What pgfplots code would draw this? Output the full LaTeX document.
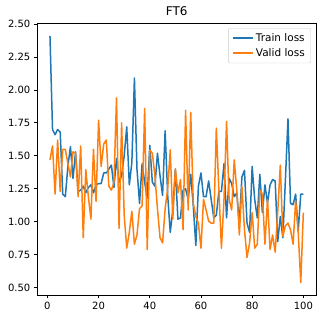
\documentclass[border=0pt]{standalone}
\usepackage{pgfplots}
\pgfplotsset{compat=1.18}
\usepackage{fontspec}
\setmainfont{DejaVu Sans}
\definecolor{C0}{HTML}{1F77B4}
\definecolor{C1}{HTML}{FF7F0E}
\begin{document}
\begin{tikzpicture}
\begin{axis}[
  at={(0,0)}, anchor=south west,
  scale only axis, width=278.7pt, height=271.7pt,
  xmin=-3.95, xmax=104.95, ymin=0.445, ymax=2.505,
  xtick={0,20,40,60,80,100},
  ytick={0.5,0.75,1.0,1.25,1.5,1.75,2.0,2.25,2.5},
  yticklabel style={/pgf/number format/.cd,fixed,fixed zerofill,precision=2},
  /pgf/number format/assume math mode=true,
  tick pos=left, tick align=outside, major tick length=3.5pt,
  every tick/.style={black, line width=0.8pt},
  axis line style={line width=0.8pt},
  tick label style={font=\fontsize{10}{12}\selectfont},
  title={FT6}, title style={font=\fontsize{12}{14}\selectfont, yshift=-2pt},
  legend cell align=left,
  legend image code/.code={\draw[#1, line width=1.5pt] (0pt,0pt) -- (20pt,0pt);},
  legend style={at={(1,1)}, anchor=north east, xshift=-5pt, yshift=-5pt,
    draw=black!20, rounded corners=2pt, fill=white,
    font=\fontsize{10.5}{12}\selectfont, inner xsep=4pt, inner ysep=3pt, row sep=1.5pt},
]
\addplot[C0, line width=1.5pt, line join=round] table {
1 2.41
2 1.70
3 1.66
4 1.70
5 1.68
6 1.21
7 1.19
8 1.42
9 1.57
10 1.33
11 1.53
12 1.23
13 1.24
14 1.27
15 1.22
16 1.26
17 1.28
18 1.22
19 1.28
20 1.29
21 1.29
22 1.37
23 1.37
24 1.40
25 1.43
26 1.26
27 1.48
28 1.30
29 1.35
30 1.50
31 1.72
32 1.28
33 1.45
34 2.09
35 1.40
36 1.14
37 1.44
38 1.30
39 1.18
40 1.58
41 1.30
42 1.27
43 1.52
44 1.35
45 1.20
46 1.69
47 1.20
48 0.92
49 1.09
50 1.40
51 1.02
52 1.03
53 1.24
54 1.25
55 1.17
56 1.36
57 1.12
58 0.82
59 1.27
60 1.37
61 1.19
62 1.19
63 1.31
64 1.17
65 1.03
66 1.05
67 1.23
68 1.23
69 1.44
70 1.03
71 1.33
72 1.29
73 1.19
74 1.22
75 0.99
76 1.34
77 1.39
78 0.99
79 0.92
80 1.42
81 1.17
82 1.03
83 1.36
84 1.07
85 1.28
86 1.14
87 1.28
88 1.32
89 1.31
90 0.85
91 1.04
92 0.88
93 1.32
94 1.78
95 1.14
96 1.13
97 1.21
98 0.93
99 1.21
100 1.21
};
\addlegendentry{Train loss}
\addplot[C1, line width=1.5pt, line join=round] table {
1 1.47
2 1.575
3 1.21
4 1.62
5 1.23
6 1.55
7 1.55
8 1.44
9 1.34
10 1.53
11 1.52
12 1.19
13 1.575
14 0.88
15 1.395
16 1.19
17 1.02
18 1.55
19 1.155
20 1.77
21 1.42
22 1.59
23 1.62
24 1.27
25 1.24
26 1.30
27 1.94
28 0.95
29 1.75
30 1.05
31 0.80
32 0.92
33 1.08
34 0.83
35 0.90
36 1.10
37 1.12
38 1.86
39 0.79
40 1.545
41 1.52
42 1.35
43 1.10
44 0.88
45 0.84
46 1.10
47 1.25
48 1.545
49 1.02
50 1.40
51 1.22
52 1.32
53 0.94
54 1.845
55 1.09
56 1.83
57 1.14
58 1.04
59 0.99
60 0.80
61 1.17
62 1.09
63 1.005
64 0.99
65 0.99
66 1.71
67 1.24
68 0.80
69 1.17
70 1.76
71 1.17
72 1.09
73 1.47
74 1.24
75 0.90
76 1.27
77 0.94
78 0.73
79 0.84
80 1.07
81 0.80
82 0.83
83 1.24
84 1.21
85 0.83
86 1.17
87 0.79
88 0.90
89 0.77
90 1.08
91 1.43
92 0.89
93 0.97
94 0.99
95 0.94
96 0.83
97 1.16
98 0.92
99 0.54
100 1.07
};
\addlegendentry{Valid loss}
\end{axis}
\pgfresetboundingbox
\useasboundingbox (-37.3pt,-24pt) rectangle (284.7pt,295pt);
\end{tikzpicture}
\end{document}
